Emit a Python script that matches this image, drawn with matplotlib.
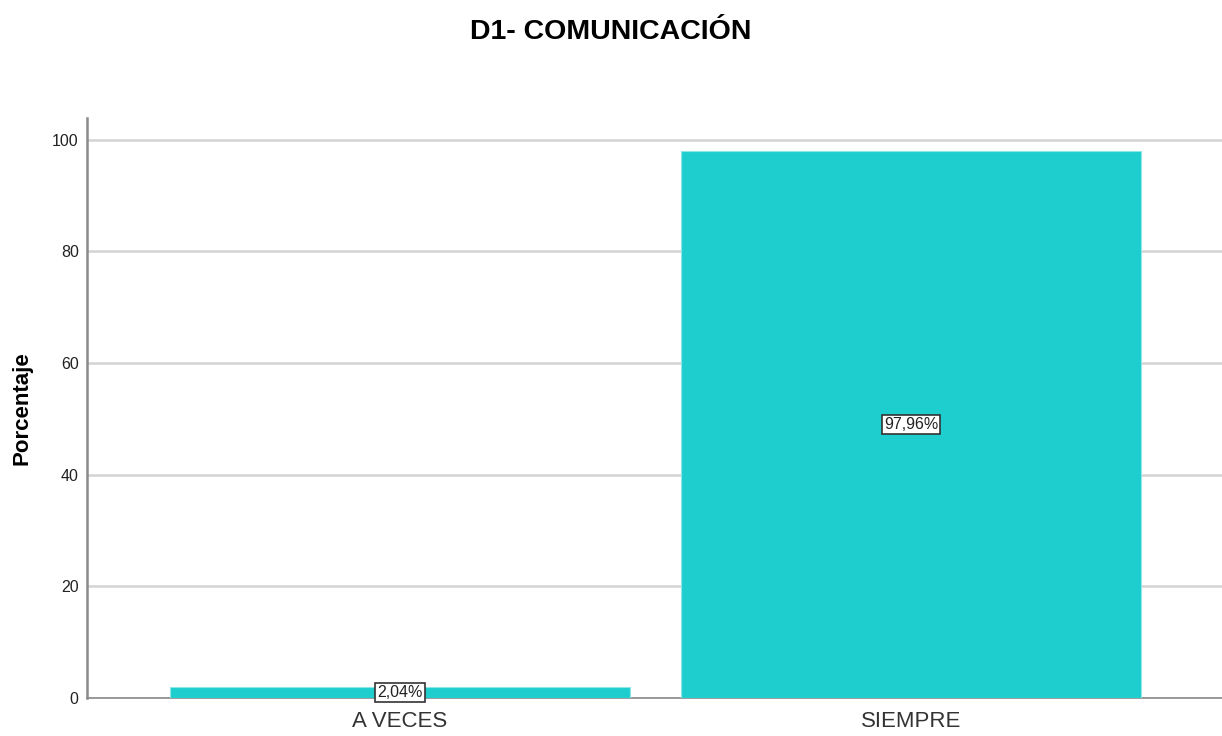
import matplotlib.pyplot as plt
import numpy as np

plt.rcParams['font.family'] = ['Liberation Sans', 'DejaVu Sans']

# datos
categorias = ['A VECES', 'SIEMPRE']
porcentajes = [2.04, 97.96]
etiquetas = ['2,04%', '97,96%']
yticks = [0, 20, 40, 60, 80, 100]

fig = plt.figure(figsize=(12.22, 7.36), dpi=100)
ax = fig.add_axes([0.0712, 0.0516, 0.9288, 0.7881])

x = np.arange(len(categorias))
ax.bar(x, porcentajes, width=0.9, color='#1ECECE', edgecolor='#8EE6E6', linewidth=0.8, zorder=3)

for xi, v, t in zip(x, porcentajes, etiquetas):
    ax.text(xi, v / 2, t, ha='center', va='center', fontsize=11.5, color='#222222', zorder=4,
            bbox=dict(boxstyle='square,pad=0.12', facecolor='white', edgecolor='#333333', linewidth=1.2))

ax.set_xlim(-0.6125, 1.6086)
ax.set_ylim(0, 103.9)
ax.set_yticks(yticks)
ax.set_xticks(x)
ax.set_xticklabels(categorias, fontsize=16, color='#333333')
ax.tick_params(axis='y', labelsize=11.5, colors='#222222', length=0, pad=6)
ax.tick_params(axis='x', length=0, pad=9)
ax.yaxis.grid(True, color='#d4d4d4', linewidth=1.8, zorder=0)
ax.set_axisbelow(True)

for s in ['top', 'right']:
    ax.spines[s].set_visible(False)
ax.spines['left'].set_color('#8a8a8a')
ax.spines['left'].set_linewidth(1.8)
ax.spines['bottom'].set_color('#8a8a8a')
ax.spines['bottom'].set_linewidth(1.2)

ax.set_ylabel('Porcentaje', fontsize=16, fontweight='bold', labelpad=14)
fig.text(0.5, 0.956, 'D1- COMUNICACIÓN', ha='center', va='center', fontsize=20.5, fontweight='bold')

fig.savefig('out.png', dpi=100)
